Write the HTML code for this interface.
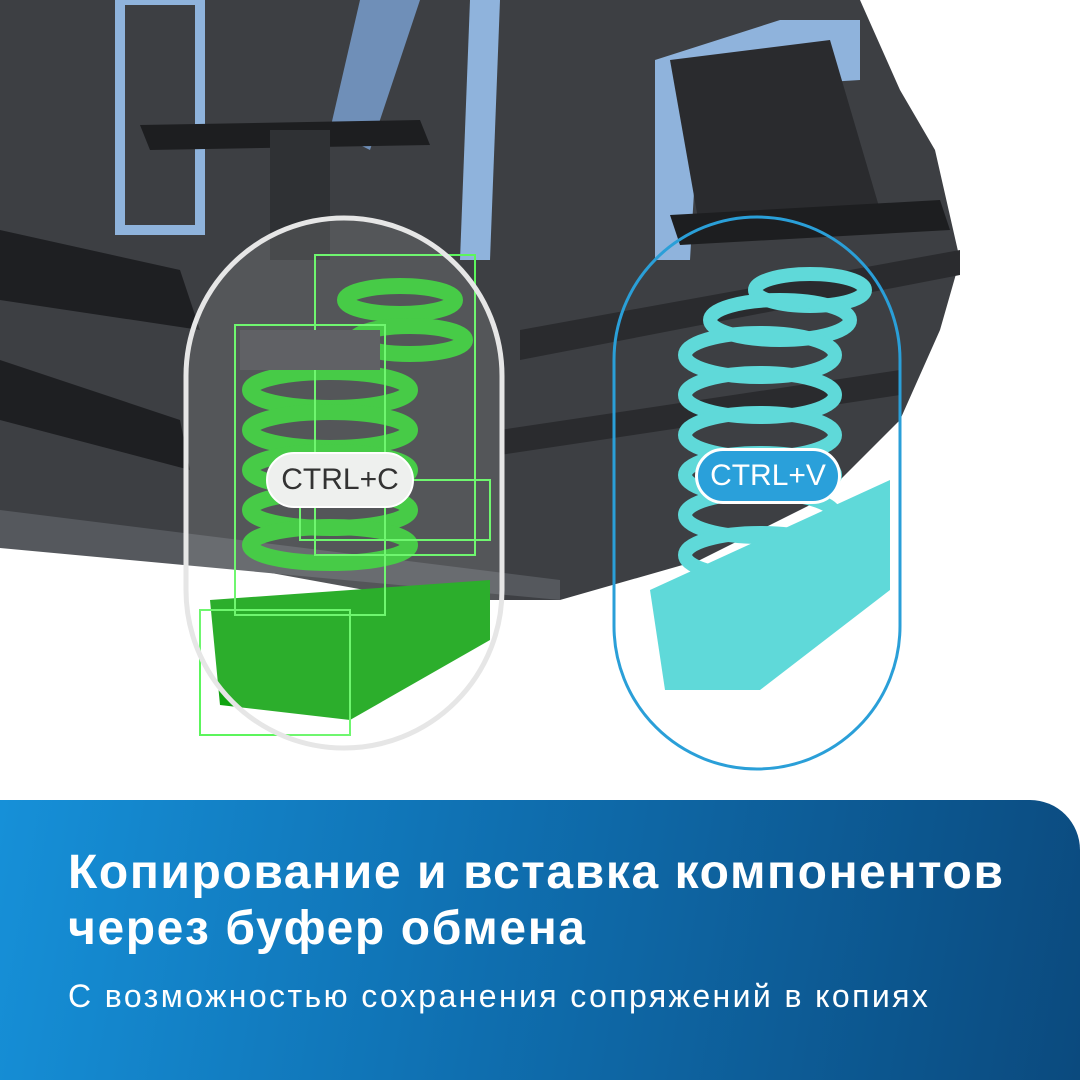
<!DOCTYPE html>
<html><head><meta charset="utf-8">
<style>
html,body{margin:0;padding:0;background:#fff;}
#w{position:relative;width:1080px;height:1080px;overflow:hidden;background:#fff;font-family:"Liberation Sans","DejaVu Sans",sans-serif;}
#panel{position:absolute;left:0;top:800px;width:1080px;height:280px;border-top-right-radius:50px;background:linear-gradient(100deg,#1690d8 0%,#0f6fb0 45%,#0b4a7e 100%);}
.t{position:absolute;color:#fff;white-space:nowrap;}
</style></head><body><div id="w">
<svg width="1080" height="800" style="position:absolute;left:0;top:0">
 <path d="M0,0 L860,0 L900,90 L935,150 L960,260 L940,330 L900,420 L820,500 L700,560 L560,600 L420,600 L200,560 L0,545 Z" fill="#3d3f43"/>
 <path d="M0,230 L180,270 L200,330 L0,300 Z" fill="#1e1f22"/>
 <path d="M0,360 L180,420 L190,470 L0,420 Z" fill="#1e1f22"/>
 <path d="M520,330 L960,250 L960,275 L520,360 Z" fill="#2a2b2e"/>
 <path d="M500,430 L900,370 L900,395 L500,455 Z" fill="#2a2b2e"/>
 <path d="M0,510 L560,580 L560,600 L0,548 Z" fill="#55585d"/>
 <path d="M120,0 L200,0 L200,230 L120,230 Z" fill="none" stroke="#8fb3dc" stroke-width="10"/>
 <path d="M470,0 L500,0 L490,260 L460,260 Z" fill="#8fb3dc"/>
 <path d="M360,0 L420,0 L370,150 L330,130 Z" fill="#6f8fb8"/>
 <path d="M655,60 L780,20 L860,20 L860,80 L700,90 L690,260 L655,260 Z" fill="#8fb3dc"/>
 <path d="M670,60 L830,40 L880,210 L700,230 Z" fill="#2a2b2e"/>
 <path d="M140,125 L420,120 L430,145 L150,150 Z" fill="#1d1e20"/>
 <path d="M270,130 L330,130 L330,260 L270,260 Z" fill="#2f3134"/>
 <path d="M670,215 L940,200 L950,230 L680,245 Z" fill="#1d1e20"/>
 <g fill="none" stroke="#2ec42e" stroke-width="16">
  <ellipse cx="330" cy="390" rx="80" ry="18"/><ellipse cx="330" cy="430" rx="80" ry="18"/>
  <ellipse cx="330" cy="470" rx="80" ry="18"/><ellipse cx="330" cy="510" rx="80" ry="18"/>
  <ellipse cx="330" cy="545" rx="80" ry="18"/><ellipse cx="400" cy="300" rx="55" ry="14"/>
  <ellipse cx="410" cy="340" rx="55" ry="14"/>
 </g>
 <path d="M210,600 L490,580 L490,640 L350,720 L220,705 Z" fill="#0fa30f"/>
 <g fill="none" stroke="#5cf55c" stroke-width="2">
  <rect x="235" y="325" width="150" height="290"/><rect x="315" y="255" width="160" height="300"/>
  <rect x="200" y="610" width="150" height="125"/><rect x="300" y="480" width="190" height="60"/>
 </g>
 <rect x="240" y="330" width="140" height="40" fill="#4a4c50"/>
 <g fill="none" stroke="#5fd9d9" stroke-width="14">
  <ellipse cx="810" cy="290" rx="55" ry="16"/><ellipse cx="780" cy="320" rx="70" ry="20"/>
  <ellipse cx="760" cy="355" rx="75" ry="22"/><ellipse cx="760" cy="395" rx="75" ry="22"/>
  <ellipse cx="760" cy="435" rx="75" ry="22"/><ellipse cx="760" cy="475" rx="75" ry="22"/>
  <ellipse cx="760" cy="515" rx="75" ry="22"/><ellipse cx="760" cy="555" rx="75" ry="22"/>
 </g>
 <path d="M650,590 L890,480 L890,590 L760,690 L665,690 Z" fill="#5fd9d9"/>
 <rect x="186" y="218" width="316" height="530" rx="158" fill="rgba(255,255,255,0.12)" stroke="#e6e6e6" stroke-width="5"/>
 <rect x="614" y="217" width="286" height="552" rx="143" fill="none" stroke="#2a9fd8" stroke-width="3"/>
</svg>
<div style="position:absolute;left:266px;top:452px;width:148px;height:56px;border-radius:28px;background:#eef0ee;border:2px solid #fff;box-sizing:border-box;font-size:30px;line-height:52px;text-align:center;color:#333">CTRL+C</div>
<div style="position:absolute;left:695px;top:448px;width:146px;height:56px;border-radius:28px;background:#2aa0da;border:3px solid #fff;box-sizing:border-box;font-size:30px;line-height:50px;text-align:center;color:#fff">CTRL+V</div>
<div id="panel"></div>
<div class="t" style="left:68px;top:845px;font-size:48px;letter-spacing:1.6px;font-weight:bold;line-height:56px;">Копирование и вставка компонентов<br>через буфер обмена</div>
<div class="t" style="left:68px;top:978px;font-size:32px;letter-spacing:2.4px;">С возможностью сохранения сопряжений в копиях</div>
</div></body></html>
